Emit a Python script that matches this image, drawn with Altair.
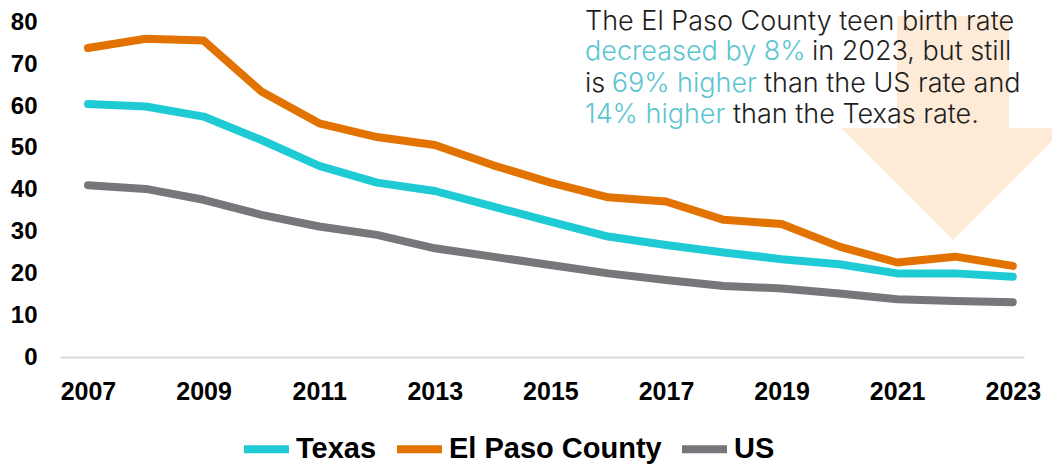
import altair as alt
import pandas as pd

years = list(range(2007, 2024))
texas = [60.5, 59.9, 57.5, 51.9, 45.7, 41.7, 39.7, 36.0, 32.4, 28.8, 26.8, 25.0, 23.4, 22.2, 20.0, 20.0, 19.2]
el_paso = [73.9, 76.1, 75.7, 63.5, 55.9, 52.6, 50.7, 45.9, 41.7, 38.2, 37.2, 32.8, 31.8, 26.4, 22.6, 24.0, 21.8]
us = [41.1, 40.2, 37.6, 34.0, 31.2, 29.2, 26.0, 24.0, 22.0, 20.0, 18.4, 17.0, 16.4, 15.2, 13.8, 13.4, 13.1]
series = ["Texas", "El Paso County", "US"]
colors = ["#1ECBD5", "#E27300", "#76767B"]
x_ticks = list(range(2007, 2024, 2))
y_ticks = list(range(0, 81, 10))

rows = []
for name, vals in zip(series, [texas, el_paso, us]):
    for yr, v in zip(years, vals):
        rows.append({"Year": yr, "Rate": v, "Series": name})
df = pd.DataFrame(rows)

AXIS_FONT = "Liberation Sans"

lines = alt.Chart(df).mark_line(strokeWidth=8, strokeCap="round", strokeJoin="round").encode(
    x=alt.X("Year:Q",
            scale=alt.Scale(domain=[2006.516, 2023.194], nice=False, zero=False),
            axis=alt.Axis(values=x_ticks, format="d", title=None, grid=False, ticks=False,
                          domainColor="#D9D9D9", domainWidth=2,
                          labelFontSize=25, labelFontWeight="bold", labelColor="#000000",
                          labelFont=AXIS_FONT, labelPadding=22)),
    y=alt.Y("Rate:Q",
            scale=alt.Scale(domain=[0, 80], nice=False),
            axis=alt.Axis(values=y_ticks, title=None, grid=False, ticks=False, domain=False,
                          labelFontSize=24, labelFontWeight="bold", labelColor="#000000",
                          labelFont=AXIS_FONT, labelPadding=23)),
    stroke=alt.Stroke("Series:N",
                      scale=alt.Scale(domain=series, range=colors),
                      legend=alt.Legend(orient="none", legendX=180, legendY=400, direction="horizontal",
                                        title=None, symbolType="stroke", symbolStrokeWidth=8,
                                        symbolSize=2025, labelFontSize=29, labelFontWeight="bold",
                                        labelFont=AXIS_FONT, labelColor="#000000", columnPadding=4,
                                        labelOffset=3, padding=0, labelLimit=500)),
)

ARROW = "M -0.5 -1 L 0.5 -1 L 0.5 0 L 1 0 L 0 1 L -1 0 L -0.5 0 Z"
arrow = alt.Chart(pd.DataFrame({"k": [0]})).mark_point(
    shape=ARROW, size=50176, filled=True, color="#FDEBD7", opacity=1, strokeWidth=0
).encode(x=alt.value(893), y=alt.value(105.5))

CYAN = "#5BC5D1"
DARK = "#1E1E1E"


def seg(text, color, x, y):
    return alt.Chart(pd.DataFrame({"t": [text]})).mark_text(
        align="left", baseline="alphabetic", font="Inter", fontSize=27, fontWeight=300, color=color
    ).encode(x=alt.value(x), y=alt.value(y), text="t:N")


texts = [
    seg("The El Paso County teen birth rate", DARK, 525, 7.5),
    seg("decreased by 8%", CYAN, 525, 37.5),
    seg("in 2023, but still", DARK, 752, 37.5),
    seg("is", DARK, 525, 69.5),
    seg("69% higher", CYAN, 551.7, 69.5),
    seg("than the US rate and", DARK, 704, 69.5),
    seg("14% higher", CYAN, 525, 100),
    seg("than the Texas rate.", DARK, 673, 100),
]

chart = alt.layer(arrow, lines, *texts).properties(
    width=964, height=334.5,
    padding={"left": 52, "top": 14.5, "right": 28, "bottom": 107},
    autosize=alt.AutoSizeParams(type="none"),
    background="white",
).configure_view(stroke=None)

chart.save("out.html", embed_options={"renderer": "svg", "actions": False})
